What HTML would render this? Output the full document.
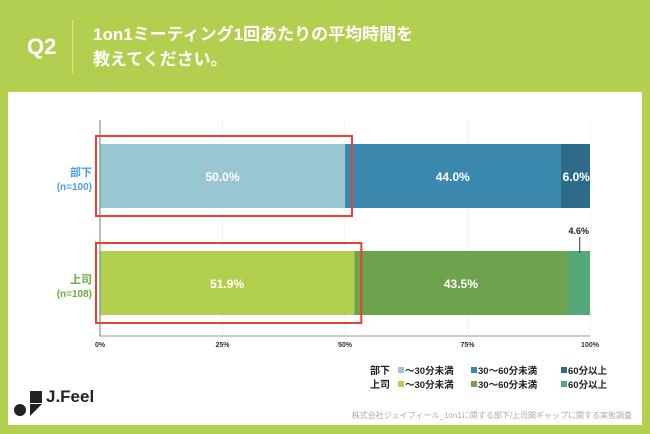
<!DOCTYPE html>
<html><head><meta charset="utf-8"><style>
body{margin:0;width:650px;height:434px;background:#b3cf50;font-family:"Liberation Sans","Noto Sans CJK JP",sans-serif;position:relative;overflow:hidden}
.abs{position:absolute}
</style></head><body>
<div class="abs" style="left:27px;top:34px;font-size:22px;color:#fff;font-weight:bold">Q2</div>
<div class="abs" style="left:72px;top:20px;width:1px;height:54px;background:#d8e6a0"></div>
<div class="abs" style="left:93px;top:22px;font-size:17px;line-height:25px;color:#fff;font-weight:bold">1on1ミーティング1回あたりの平均時間を<br>教えてください。</div>
<div class="abs" style="left:8px;top:92px;width:634px;height:333px;background:#fff"></div>
<svg class="abs" style="left:0;top:0" width="650" height="434" id="chart"></svg>
<div class="abs" style="left:14px;top:390px;width:90px;height:30px">
<div class="abs" style="left:16px;top:1px;width:12px;height:12px;background:#222"></div>
<div class="abs" style="left:0;top:14px;width:12px;height:12px;border-radius:50%;background:#222"></div>
<div class="abs" style="left:16px;top:14px;width:0;height:0;border-top:12px solid #222;border-right:12px solid transparent"></div>
<div class="abs" style="left:32px;top:-3px;font-size:17px;font-weight:bold;color:#222">J.Feel</div>
</div>
<div class="abs" style="right:18px;top:410px;font-size:8px;color:#aaa;white-space:nowrap">株式会社ジェイフィール_1on1に関する部下/上司間ギャップに関する実態調査</div>
<script>
const groups=['部下','上司'];
const ns=['(n=100)','(n=108)'];
const lt30=[50.0,51.9];
const m3060=[44.0,43.5];
const ge60=[6.0,4.6];
const ticks=[0,25,50,75,100];
const tickLabels=['0%','25%','50%','75%','100%'];
const svg=document.getElementById('chart');
const NS='http://www.w3.org/2000/svg';
const x=v=>100+v*4.9;
const rowY=[144,251],bh=64;
const colors=[['#98c7d2','#3a88ae','#2d6b8a'],['#b2cf4e','#6ea34d','#55a878']];
const labColors=['#4a9ee0','#6aab3e'];
function el(t,a,txt){const e=document.createElementNS(NS,t);for(const k in a)e.setAttribute(k,a[k]);if(txt!=null)e.textContent=txt;svg.appendChild(e);return e;}
for(const t of ticks){const g=el('line',{x1:x(t),x2:x(t),y1:120,y2:336,stroke:'#f0f0f0'});}
ticks.forEach((t,i)=>{const e=el('text',{x:x(t),y:347,'font-size':7,'text-anchor':'middle',fill:'#333','font-weight':'bold'},tickLabels[i]);});
groups.forEach((g,i)=>{
 const vals=[lt30[i],m3060[i],ge60[i]];let acc=0;
 vals.forEach((v,j)=>{
  const r=el('rect',{x:x(acc),y:rowY[i],width:x(acc+v)-x(acc),height:bh,fill:colors[i][j]});
  
  const cx=(x(acc)+x(acc+v))/2;
  if(v>10){const t=el('text',{x:cx,y:rowY[i]+bh/2+5,'font-size':12,'text-anchor':'middle',fill:'#fff','font-weight':'bold'},v.toFixed(1)+'%');}
  else if(i==0){const t=el('text',{x:x(acc)+2,y:rowY[i]+bh/2+5,'font-size':12,fill:'#fff','font-weight':'bold'},v.toFixed(1)+'%');}
  else{el('line',{x1:cx+1,x2:cx+1,y1:rowY[i]-14,y2:rowY[i]+2,stroke:'#333'});const t=el('text',{x:cx,y:rowY[i]-17,'font-size':9,'text-anchor':'middle',fill:'#222','font-weight':'bold'},v.toFixed(1)+'%');}
  acc+=v;
 });
 const a=el('text',{x:92,y:rowY[i]+32,'font-size':11,'text-anchor':'end',fill:labColors[i],'font-weight':'bold'},g);
 const b=el('text',{x:92,y:rowY[i]+46,'font-size':10,'text-anchor':'end',fill:labColors[i],'font-weight':'bold'},ns[i]);
 const hb=el('rect',{x:96,y:rowY[i]-8,width:x(lt30[i])-96+7,height:80,fill:'none',stroke:'#e8412f','stroke-width':2});
});
el('line',{x1:100,x2:100,y1:120,y2:336,stroke:'#777'});
el('line',{x1:100,x2:590,y1:336,y2:336,stroke:'#999'});
const legNames=['〜30分未満','30〜60分未満','60分以上'];
const legX=[405,478,568];
groups.forEach((g,i)=>{
 const y=374+i*14;
 const gl=el('text',{x:390,y:y,'font-size':10,'text-anchor':'end',fill:'#222','font-weight':'bold'},g);
 legNames.forEach((n,j)=>{
  const r=el('rect',{x:legX[j]-7,y:y-7,width:6,height:6,fill:colors[i][j]});
  const t=el('text',{x:legX[j],y:y,'font-size':9.5,fill:'#222','font-weight':'bold'},n);
 });
});
</script>
</body></html>
